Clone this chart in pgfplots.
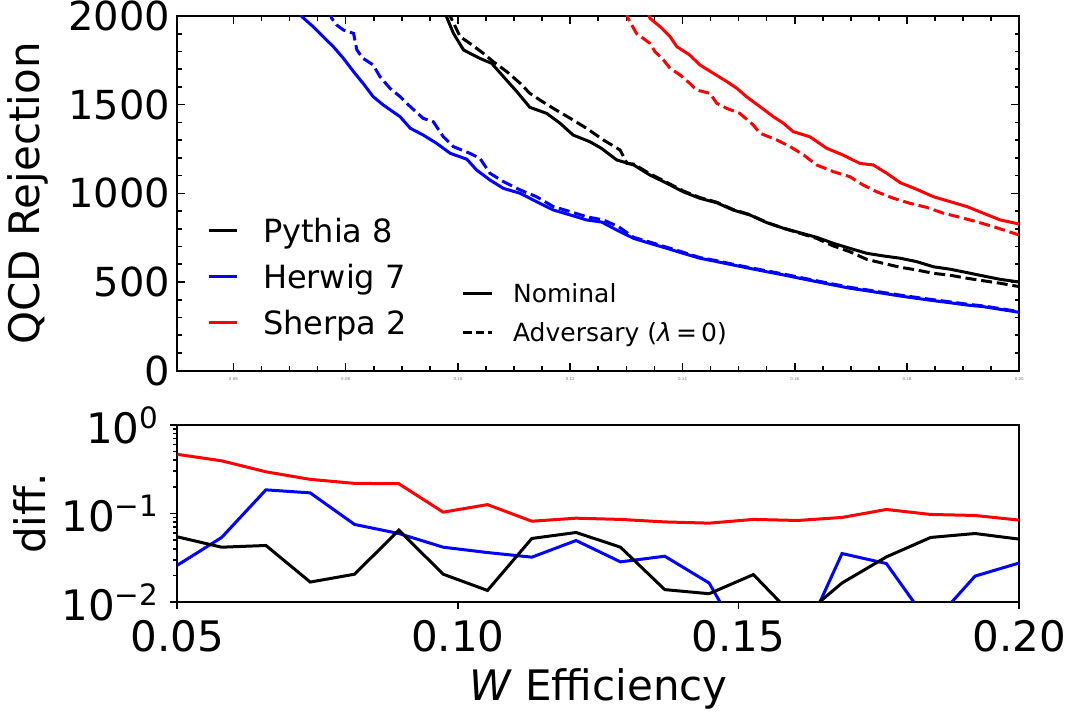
\documentclass[border=0pt]{standalone}
\usepackage{fontspec}
\setmainfont{DejaVu Sans}
\usepackage{pgfplots}
\pgfplotsset{compat=1.18}
\pgfplotsset{/pgf/number format/assume math mode=true, /pgf/number format/1000 sep={}}
\definecolor{mplblue}{RGB}{0,0,255}
\definecolor{mplred}{RGB}{255,0,0}
\begin{document}
\begin{tikzpicture}
\path[use as bounding box] (0,0) rectangle (536.5pt,357.5pt);
% ---------------- top panel ----------------
\begin{axis}[
  at={(88.65pt,172.15pt)}, anchor=south west,
  width=421pt, height=177.35pt, scale only axis,
  xmin=0.05, xmax=0.2, ymin=0, ymax=2000,
  xtick={0.06,0.08,0.10,0.12,0.14,0.16,0.18,0.20},
  xticklabels={0.06,0.08,0.10,0.12,0.14,0.16,0.18,0.20},
  minor x tick num=3,
  ytick={0,500,1000,1500,2000}, minor y tick num=4,
  tick align=inside,
  major tick length=4pt, minor tick length=2.3pt,
  axis line style={line width=1pt},
  every tick/.style={black, line width=0.8pt},
  yticklabel style={font=\fontsize{20}{20}\selectfont},
  xticklabel style={font=\fontsize{2}{2}\selectfont, text=black!55},
  ylabel={QCD Rejection},
  ylabel style={font=\fontsize{21}{21}\selectfont, at={(axis description cs:-0.177,0.5)}, anchor=center},
  legend style={at={(axis description cs:0.0353,0.4305)}, anchor=north west, draw=none, fill=none,
    inner sep=0pt, outer sep=0pt, font=\fontsize{16}{16}\selectfont, row sep=11pt,
    nodes={inner sep=0pt, text depth=0pt},
    /tikz/every odd column/.append style={column sep=12.5pt}},
  legend cell align=left,
  legend image code/.code={\draw[#1, line width=1.5pt] (0pt,0pt) -- (14pt,0pt);},
]
\addlegendimage{black}\addlegendentry{Pythia 8}
\addlegendimage{mplblue}\addlegendentry{Herwig 7}
\addlegendimage{mplred}\addlegendentry{Sherpa 2}
% Pythia nominal
\addplot[black, line width=1.5pt, forget plot] coordinates {
(0.0975,2030) (0.0979,2000) (0.0992,1902) (0.1010,1808) (0.1039,1761) (0.1060,1733)
(0.1081,1658) (0.1105,1573) (0.1128,1485) (0.1158,1451) (0.1182,1395) (0.1205,1329)
(0.1235,1291) (0.1255,1255) (0.1283,1188) (0.1313,1160) (0.1342,1103) (0.1372,1057)
(0.1401,1009) (0.1431,972) (0.1461,947) (0.1490,906) (0.1520,878) (0.1550,835)
(0.1580,803) (0.1609,778) (0.1639,752) (0.1669,718) (0.1698,690) (0.1728,662)
(0.1758,647) (0.1788,634) (0.1817,615) (0.1847,586) (0.1877,572) (0.1907,553)
(0.1936,534) (0.1966,515) (0.2000,500)};
% Pythia adversary
\addplot[black, line width=1.5pt, dash pattern=on 5.5pt off 2.4pt, forget plot] coordinates {
(0.0982,2030) (0.0986,2000) (0.1004,1883) (0.1021,1846) (0.1045,1790) (0.1063,1742)
(0.1087,1686) (0.1111,1620) (0.1128,1564) (0.1146,1526) (0.1170,1479) (0.1200,1423)
(0.1229,1367) (0.1259,1301) (0.1289,1244) (0.1301,1169) (0.1313,1165) (0.1342,1110)
(0.1372,1062) (0.1401,1014) (0.1431,976) (0.1461,950) (0.1490,909) (0.1520,880)
(0.1550,836) (0.1580,803) (0.1609,775) (0.1639,746) (0.1669,703) (0.1698,671)
(0.1728,628) (0.1758,605) (0.1788,583) (0.1817,568) (0.1847,549) (0.1877,538)
(0.1907,521) (0.1936,507) (0.1966,493) (0.2000,474)};
% Herwig nominal
\addplot[mplblue, line width=1.5pt, forget plot] coordinates {
(0.0718,2030) (0.0722,1996) (0.0742,1940) (0.0760,1883) (0.0778,1827) (0.0796,1761)
(0.0814,1686) (0.0831,1620) (0.0849,1545) (0.0867,1498) (0.0897,1432) (0.0915,1367)
(0.0938,1329) (0.0962,1282) (0.0986,1226) (0.1016,1192) (0.1033,1132) (0.1057,1075)
(0.1081,1028) (0.1111,1000) (0.1140,953) (0.1170,906) (0.1200,878) (0.1229,850)
(0.1256,838) (0.1283,793) (0.1313,746) (0.1342,718) (0.1372,690) (0.1401,662)
(0.1431,634) (0.1461,615) (0.1490,596) (0.1520,577) (0.1550,558) (0.1580,540)
(0.1609,521) (0.1639,502) (0.1669,483) (0.1698,465) (0.1728,451) (0.1758,436)
(0.1788,421) (0.1817,408) (0.1847,395) (0.1877,383) (0.1907,370) (0.1936,361)
(0.1966,346) (0.2000,329)};
% Herwig adversary
\addplot[mplblue, line width=1.5pt, dash pattern=on 5.5pt off 2.4pt, forget plot] coordinates {
(0.0771,2030) (0.0775,1987) (0.0784,1949) (0.0796,1921) (0.0814,1902) (0.0820,1808)
(0.0831,1761) (0.0849,1724) (0.0861,1658) (0.0879,1592) (0.0897,1545) (0.0915,1489)
(0.0938,1423) (0.0956,1404) (0.0974,1319) (0.0992,1263) (0.1021,1226) (0.1039,1198)
(0.1057,1113) (0.1081,1066) (0.1111,1019) (0.1140,981) (0.1170,925) (0.1200,897)
(0.1229,868) (0.1259,850) (0.1286,812) (0.1313,752) (0.1342,725) (0.1372,696)
(0.1401,668) (0.1431,638) (0.1461,620) (0.1490,600) (0.1520,581) (0.1550,563)
(0.1580,545) (0.1609,526) (0.1639,507) (0.1669,488) (0.1698,470) (0.1728,456)
(0.1758,441) (0.1788,426) (0.1817,413) (0.1847,400) (0.1877,388) (0.1907,375)
(0.1936,365) (0.1966,350) (0.2000,333)};
% Sherpa nominal
\addplot[mplred, line width=1.5pt, forget plot] coordinates {
(0.1338,2030) (0.1342,1987) (0.1360,1940) (0.1378,1883) (0.1390,1827) (0.1413,1780)
(0.1431,1724) (0.1455,1677) (0.1479,1630) (0.1497,1592) (0.1514,1545) (0.1538,1489)
(0.1562,1432) (0.1580,1395) (0.1597,1348) (0.1627,1319) (0.1657,1254) (0.1686,1216)
(0.1716,1169) (0.1740,1160) (0.1764,1113) (0.1788,1060) (0.1817,1023) (0.1847,981)
(0.1877,953) (0.1907,925) (0.1936,888) (0.1966,850) (0.2000,827)};
% Sherpa adversary
\addplot[mplred, line width=1.5pt, dash pattern=on 5.5pt off 2.4pt, forget plot] coordinates {
(0.1299,2030) (0.1303,1987) (0.1318,1902) (0.1342,1846) (0.1351,1799) (0.1366,1752)
(0.1378,1705) (0.1396,1667) (0.1413,1620) (0.1425,1583) (0.1449,1564) (0.1461,1508)
(0.1479,1479) (0.1502,1451) (0.1526,1386) (0.1538,1339) (0.1568,1301) (0.1592,1263)
(0.1616,1216) (0.1639,1160) (0.1669,1122) (0.1698,1094) (0.1722,1047) (0.1746,1009)
(0.1776,972) (0.1805,944) (0.1835,921) (0.1865,888) (0.1894,865) (0.1924,840)
(0.1954,812) (0.2000,765)};
\end{axis}
% second legend (line styles)
\begin{axis}[
  at={(88.65pt,172.15pt)}, anchor=south west,
  width=421pt, height=177.35pt, scale only axis, hide axis,
  xmin=0, xmax=1, ymin=0, ymax=1,
  legend style={at={(axis description cs:0.3377,0.2444)}, anchor=north west, draw=none, fill=none,
    inner sep=0pt, outer sep=0pt, font=\fontsize{12.5}{12.5}\selectfont, row sep=9.85pt,
    nodes={inner sep=0pt, text depth=0pt},
    /tikz/every odd column/.append style={column sep=10pt}},
  legend cell align=left,
  legend image code/.code={\draw[#1, line width=1.5pt] (0pt,0pt) -- (14.2pt,0pt);},
]
\addlegendimage{black}\addlegendentry{Nominal}
\addlegendimage{black, dash pattern=on 4.2pt off 2pt}\addlegendentry{Adversary ({\itshape λ}\,=\,0)}
\end{axis}
% ---------------- bottom panel ----------------
\begin{axis}[
  at={(88.65pt,56.5pt)}, anchor=south west,
  width=421pt, height=88.5pt, scale only axis,
  ymode=log,
  xmin=0.05, xmax=0.2, ymin=0.01, ymax=1,
  xtick={0.05,0.10,0.15,0.20}, xticklabels={0.05,0.10,0.15,0.20},
  ytick={0.01,0.1,1},
  yticklabels={10\textsuperscript{−2},10\textsuperscript{−1},10\textsuperscript{0}},
  xtick pos=bottom, ytick pos=left,
  tick align=outside,
  major tick length=3.5pt, minor tick length=2pt,
  axis line style={line width=1pt},
  every tick/.style={black, line width=0.8pt},
  ticklabel style={font=\fontsize{21}{21}\selectfont},
  xticklabel shift=2pt, yticklabel shift=2pt,
  xlabel={\textit{W} Efficiency},
  xlabel style={font=\fontsize{21}{21}\selectfont, at={(axis description cs:0.5,-0.554)}, anchor=base},
  ylabel={diff.},
  ylabel style={font=\fontsize{21}{21}\selectfont, at={(axis description cs:-0.175,0.5)}, anchor=center},
]
\addplot[mplred, line width=1.5pt] coordinates {
(0.05,0.466) (0.05789,0.394) (0.06579,0.296) (0.07368,0.243) (0.08158,0.219)
(0.08947,0.217) (0.09737,0.1035) (0.10526,0.126) (0.11316,0.0818) (0.12105,0.0885)
(0.12895,0.0857) (0.13684,0.0803) (0.14474,0.0778) (0.15263,0.0857) (0.16053,0.0834)
(0.16842,0.0902) (0.17632,0.111) (0.18421,0.0975) (0.19211,0.0950) (0.20,0.0841)};
\addplot[mplblue, line width=1.5pt] coordinates {
(0.05,0.026) (0.05789,0.0535) (0.06579,0.185) (0.07368,0.171) (0.08158,0.0752)
(0.08947,0.0594) (0.09737,0.0416) (0.10526,0.0362) (0.11316,0.0321) (0.12105,0.0495)
(0.12895,0.0284) (0.13684,0.0329) (0.14474,0.0164) (0.15263,0.0022) (0.16053,0.0028)
(0.16842,0.0353) (0.17632,0.0272) (0.18421,0.0054) (0.19211,0.0196) (0.20,0.0276)};
\addplot[black, line width=1.5pt] coordinates {
(0.05,0.0545) (0.05789,0.0416) (0.06579,0.0435) (0.07368,0.0168) (0.08158,0.0206)
(0.08947,0.0648) (0.09737,0.0206) (0.10526,0.0135) (0.11316,0.0522) (0.12105,0.0610)
(0.12895,0.0416) (0.13684,0.0138) (0.14474,0.0124) (0.15263,0.0204) (0.16053,0.0062)
(0.16842,0.0164) (0.17632,0.0323) (0.18421,0.0536) (0.19211,0.0594) (0.20,0.0513)};
\end{axis}
\end{tikzpicture}
\end{document}
